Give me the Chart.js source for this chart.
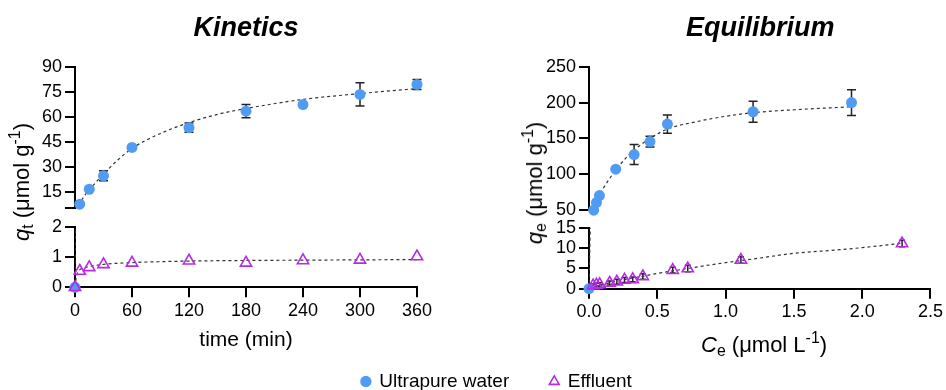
<!DOCTYPE html>
<html>
<head>
<meta charset="utf-8">
<title>Kinetics and equilibrium uptake</title>
<script src="https://cdn.jsdelivr.net/npm/chart.js@4/dist/chart.umd.min.js"></script>
<style>
  html, body { margin: 0; padding: 0; background: #fff; overflow: hidden; }
  #fig { position: relative; width: 946px; height: 390px; overflow: hidden;
         font-family: "Liberation Sans", Arial, sans-serif; color: #000; }
  #fig canvas { position: absolute; }
  .lbl { position: absolute; white-space: nowrap; line-height: 1; z-index: 5;
         transform: translate(-50%, -50%); }
  .lbl.rot { transform: translate(-50%, -50%) rotate(-90deg); }
  .lbl sub { font-size: 72%; vertical-align: -0.28em; line-height: 0; }
  .lbl sup { font-size: 72%; vertical-align: 0.55em; line-height: 0; }
</style>
</head>
<body>
<div id="fig">
  <canvas id="kinTop" width="445" height="222" style="left:0px;top:0px"></canvas>
  <canvas id="kinBottom" width="445" height="190" style="left:0px;top:200px"></canvas>
  <canvas id="eqTop" width="466" height="224" style="left:480px;top:0px"></canvas>
  <canvas id="eqBottom" width="884" height="201" style="left:62px;top:200px"></canvas>

  <div class="lbl rot" style="left:22px;top:182px;font-size:22px"><i>q</i><sub>t</sub> (μmol g<sup>-1</sup>)</div>
  <div class="lbl rot" style="left:535px;top:183px;font-size:22px"><i>q</i><sub>e</sub> (μmol g<sup>-1</sup>)</div>
  <div class="lbl" style="left:764px;top:345px;font-size:22px"><i>C</i><sub>e</sub> (μmol L<sup>-1</sup>)</div>
</div>

<script>
// ---- Kinetics: contact time (min) vs uptake q_t (µmol g^-1) ----
const kinTime          = [0, 5, 15, 30, 60, 120, 180, 240, 300, 360];
const kinUltrapure     = [0, 7.4, 16.4, 24.5, 41.6, 53.5, 63.4, 67.4, 73.5, 79.5];
const kinUltrapureErr  = [0, 0, 0, 3, 1, 2.8, 4, 1, 7, 3];
const kinEffluent      = [0, 0.54, 0.66, 0.76, 0.81, 0.88, 0.81, 0.89, 0.91, 1.02];

// fitted kinetic curves
const kinFitTime       = [0, 0.5, 1, 2, 5, 10, 15, 30, 45, 60, 90, 120, 150, 180, 240, 300, 360];
const kinFitUltrapure  = [0, 2.5, 4, 5.5, 8, 12.5, 16, 25.5, 34, 41, 50, 56.5, 61.5, 65, 70.5, 74, 77];
const kinFitEffTime    = [0, 1, 2, 3, 5, 10, 15, 30, 60, 90, 120, 180, 240, 300, 360];
const kinFitEffluent   = [0, 0.25, 0.42, 0.5, 0.58, 0.65, 0.69, 0.76, 0.82, 0.85, 0.87, 0.89, 0.9, 0.91, 0.92];

// ---- Equilibrium: C_e (µmol L^-1) vs q_e (µmol g^-1) ----
const eqConc           = [0, 0.034, 0.054, 0.076, 0.195, 0.329, 0.445, 0.572, 1.197, 1.915];
const eqUltrapure      = [0, 50, 60.7, 70.4, 107.2, 127.6, 145.6, 170, 187.2, 200];
const eqUltrapureErr   = [0, 0, 0, 0, 2, 14, 7.5, 12.7, 14.5, 18];
const eqEffConc        = [0.03, 0.054, 0.078, 0.151, 0.204, 0.26, 0.32, 0.394, 0.613, 0.723, 1.112, 2.292];
const eqEffluent       = [0.75, 0.95, 1.05, 1.4, 1.7, 2.15, 2.3, 3.0, 4.55, 4.95, 7.05, 11.1];
const eqEffluentErr    = [0.4, 0.4, 0.4, 0.5, 0.6, 0.6, 0.6, 0.7, 0.7, 0.8, 0.8, 0.8];

// fitted isotherms
const eqFitConc        = [0, 0.01, 0.02, 0.034, 0.054, 0.076, 0.1, 0.15, 0.2, 0.27, 0.33, 0.445, 0.572, 0.8, 1.0, 1.2, 1.5, 1.9];
const eqFitUltrapure   = [0, 16, 30, 47, 60, 70, 79, 94, 107, 123, 134, 150, 163, 174, 181, 186, 190, 194];
const eqFitEffConc     = [0, 0.05, 0.1, 0.2, 0.3, 0.4, 0.5, 0.6, 0.7, 0.8, 1.0, 1.2, 1.5, 1.8, 2.0, 2.3];
const eqFitEffluent    = [0, 0.6, 1.05, 1.8, 2.5, 3.1, 3.75, 4.3, 4.85, 5.4, 6.4, 7.3, 8.7, 9.5, 10.1, 11.2];

// ---- axis ticks ----
const kinXTicks      = [0, 60, 120, 180, 240, 300, 360];
const kinTopTicks    = [15, 30, 45, 60, 75, 90];
const kinBottomTicks = [0, 1, 2];
const eqXTicks       = [0, 0.5, 1, 1.5, 2, 2.5];
const eqTopTicks     = [50, 100, 150, 200, 250];
const eqBottomTicks  = [0, 5, 10, 15];

const seriesNames = ['Ultrapure water', 'Effluent'];

const FONT = '"Liberation Sans", Arial, sans-serif';
const BLUE = '#509cf5';
const PURPLE = '#b72ae6';

// points of one series lying inside [lo, hi] of a broken-axis segment
function within(xs, ys, errs, lo, hi) {
  return xs.map((x, i) => ({ x: x, y: ys[i], e: errs ? errs[i] : 0 }))
           .filter(p => p.y >= lo && p.y <= hi);
}
function pairs(xs, ys) {
  return xs.map((x, i) => ({ x: x, y: ys[i] }));
}

// vertical error bars (mean ± SD), drawn beneath the markers
const errorBars = {
  id: 'errorBars',
  beforeDatasetsDraw(chart) {
    const ctx = chart.ctx;
    chart.data.datasets.forEach((ds, i) => {
      if (!ds.errorBars) return;
      const meta = chart.getDatasetMeta(i);
      const ys = chart.scales[meta.yAxisID];
      ctx.save();
      ctx.strokeStyle = ds.errorBars.color;
      ctx.lineWidth = ds.errorBars.width;
      meta.data.forEach((pt, j) => {
        const d = ds.data[j];
        if (!d.e) return;
        const x = pt.x;
        const yHi = ys.getPixelForValue(d.y + d.e);
        const yLo = ys.getPixelForValue(d.y - d.e);
        const c = ds.errorBars.cap;
        ctx.beginPath();
        ctx.moveTo(x, yHi); ctx.lineTo(x, yLo);
        ctx.moveTo(x - c, yHi); ctx.lineTo(x + c, yHi);
        ctx.moveTo(x - c, yLo); ctx.lineTo(x + c, yLo);
        ctx.stroke();
      });
      ctx.restore();
    });
  }
};

const tickFont = { family: FONT, size: 18 };
const axisLine = { display: true, color: '#000', width: 2 };
const tickMarks = { display: true, drawOnChartArea: false, drawTicks: true,
                    tickLength: 10, tickWidth: 2, tickColor: '#000', lineWidth: 2, color: '#000' };

function yAxis(min, max, ticks, width) {
  return {
    type: 'linear', position: 'left', min: min, max: max,
    afterBuildTicks: s => {
      const vals = ticks.includes(min) ? ticks : [min].concat(ticks);
      s.ticks = vals.map(v => ({ value: v }));
    },
    ticks: { font: tickFont, color: '#000', padding: 3, autoSkip: false,
             callback: v => ticks.includes(v) ? String(v) : '' },
    grid: tickMarks, border: axisLine,
    afterFit: s => { s.width = width; }
  };
}

function xAxis(min, max, ticks, fmt, show, heightFn, title) {
  return {
    type: 'linear', position: 'bottom', min: min, max: max, display: show,
    afterBuildTicks: s => { s.ticks = ticks.map(v => ({ value: v })); },
    ticks: { font: tickFont, color: '#000', padding: 3, maxRotation: 0, autoSkip: false,
             callback: fmt },
    grid: tickMarks, border: axisLine,
    title: title || { display: false },
    afterFit: s => { if (heightFn) s.height = heightFn(s); }
  };
}

function pointSet(name, data, isTriangle) {
  return {
    label: name, data: data, showLine: false, clip: false,
    pointStyle: isTriangle ? 'triangle' : 'circle',
    pointRadius: isTriangle ? 6.5 : 5.5, pointHoverRadius: isTriangle ? 6.5 : 5.5,
    backgroundColor: isTriangle ? 'rgba(0,0,0,0)' : BLUE,
    borderColor: isTriangle ? PURPLE : BLUE,
    borderWidth: isTriangle ? 1.6 : 0,
    order: isTriangle ? 1 : 2,
    errorBars: { color: '#222', width: 1.5, cap: isTriangle ? 3 : 4.5 }
  };
}

function fitSet(data) {
  return {
    label: 'fit', isFit: true, data: data, showLine: true, fill: false,
    pointRadius: 0, pointHoverRadius: 0,
    borderColor: '#333', borderWidth: 1.2, borderDash: [3, 3],
    cubicInterpolationMode: 'monotone', clip: 0, order: 5
  };
}

function panelTitle(text) {
  return { display: true, text: text, fullSize: false, color: '#000',
           font: { family: FONT, size: 27, weight: 'bold', style: 'italic', lineHeight: 1.2 },
           padding: { top: 12, bottom: 0 } };
}

function makeChart(id, datasets, scales, opts) {
  return new Chart(document.getElementById(id), {
    type: 'scatter',
    data: { datasets: datasets },
    options: {
      responsive: false, animation: false, devicePixelRatio: 1,
      events: [],
      layout: { padding: opts.padding, autoPadding: false },
      scales: scales,
      plugins: {
        title: opts.title || { display: false },
        legend: opts.legend || { display: false },
        tooltip: { enabled: false }
      }
    },
    plugins: [errorBars]
  });
}

// ----- Kinetics, upper segment (5 – 90) -----
const kinTitle = panelTitle('Kinetics');
kinTitle.padding.bottom = 67 - 12 - 32.4;
makeChart('kinTop', [
  pointSet(seriesNames[0], within(kinTime, kinUltrapure, kinUltrapureErr, 5, 90), false),
  fitSet(pairs(kinFitTime, kinFitUltrapure))
], {
  x: xAxis(0, 360, kinXTicks, v => String(v), false),
  y: yAxis(5, 90, kinTopTicks, 75)
}, { padding: { left: 0, right: 28, top: 0, bottom: 12 }, title: kinTitle });

// ----- Kinetics, lower segment (0 – 2) with time axis -----
makeChart('kinBottom', [
  pointSet(seriesNames[1], within(kinTime, kinEffluent, null, 0, 2), true),
  pointSet(seriesNames[0], within(kinTime, kinUltrapure, kinUltrapureErr, 0, 2), false),
  fitSet(pairs(kinFitEffTime, kinFitEffluent)),
  fitSet(pairs(kinFitTime, kinFitUltrapure))
], {
  x: xAxis(0, 360, kinXTicks, v => String(v), true, () => 102.7, {
    display: true, text: 'time (min)', color: '#000',
    font: { family: FONT, size: 21, lineHeight: 1.2 },
    padding: { top: 4, bottom: 50 - 12.6 }
  }),
  y: yAxis(0, 2, kinBottomTicks, 75)
}, { padding: { left: 0, right: 28, top: 27, bottom: 0 } });

// ----- Equilibrium, upper segment (50 – 250) -----
const eqTitle = panelTitle('Equilibrium');
eqTitle.padding.bottom = 66.7 - 12 - 32.4;
makeChart('eqTop', [
  pointSet(seriesNames[0], within(eqConc, eqUltrapure, eqUltrapureErr, 50, 250), false),
  fitSet(pairs(eqFitConc, eqFitUltrapure))
], {
  x: xAxis(0, 2.5, eqXTicks, v => v.toFixed(1), false),
  y: yAxis(50, 250, eqTopTicks, 109)
}, { padding: { left: 0, right: 14.3, top: 0, bottom: 13 }, title: eqTitle });

// ----- Equilibrium, lower segment (0 – 15) with C_e axis and legend -----
const EQ_AREA_BOTTOM = 88.7;
makeChart('eqBottom', [
  pointSet(seriesNames[0], within(eqConc, eqUltrapure, eqUltrapureErr, 0, 15), false),
  pointSet(seriesNames[1], within(eqEffConc, eqEffluent, eqEffluentErr, 0, 15), true),
  fitSet(pairs(eqFitEffConc, eqFitEffluent)),
  fitSet(pairs(eqFitConc, eqFitUltrapure))
], {
  x: xAxis(0, 2.5, eqXTicks, v => v.toFixed(1), true,
           s => s.chart.height - (s.chart.legend ? s.chart.legend.height : 0) - EQ_AREA_BOTTOM),
  y: yAxis(0, 15, eqBottomTicks, 527)
}, {
  padding: { left: 0, right: 14.3, top: 27.7, bottom: 0 },
  legend: {
    display: true, position: 'bottom',
    labels: {
      usePointStyle: true, boxWidth: 8, boxHeight: 8, padding: 41,
      color: '#000', font: { family: FONT, size: 19 },
      filter: (item, data) => !data.datasets[item.datasetIndex].isFit,
      sort: (a, b) => a.datasetIndex - b.datasetIndex
    }
  }
});
</script>
</body>
</html>
